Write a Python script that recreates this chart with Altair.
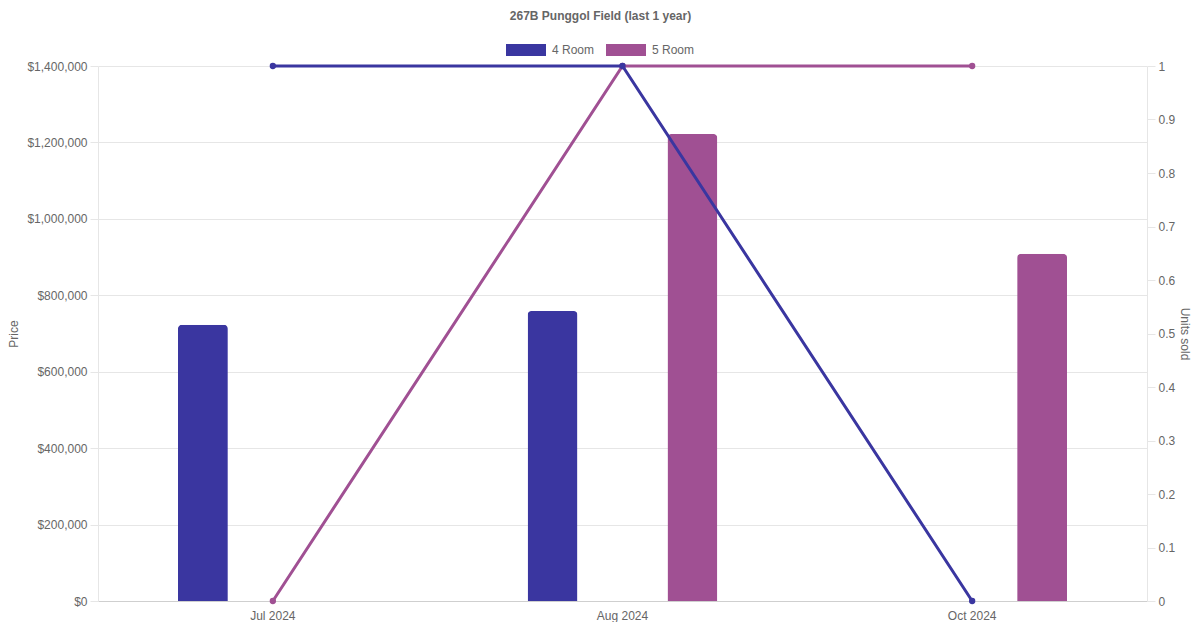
import altair as alt
import pandas as pd

months = ["Jul 2024", "Aug 2024", "Oct 2024"]
series = ["4 Room", "5 Room"]
price_4room = [723000, 759000, None]
price_5room = [None, 1222000, 909000]
units_4room = [1, 1, 0]
units_5room = [0, 1, 1]
colors = ["#3A36A0", "#A05093"]

price_ticks = [0, 200000, 400000, 600000, 800000, 1000000, 1200000, 1400000]
unit_ticks = [0, 0.1, 0.2, 0.3, 0.4, 0.5, 0.6, 0.7, 0.8, 0.9, 1]

rows = []
for i, m in enumerate(months):
    rows.append({"month": m, "series": "4 Room", "price": price_4room[i], "units": units_4room[i]})
    rows.append({"month": m, "series": "5 Room", "price": price_5room[i], "units": units_5room[i]})
df = pd.DataFrame(rows)

FONT = "Liberation Sans"
GRID = "#e6e6e6"
TXT = "#666666"

color = alt.Color(
    "series:N",
    scale=alt.Scale(domain=series, range=colors),
    legend=alt.Legend(
        title=None,
        orient="none",
        direction="horizontal",
        legendX=408,
        legendY=-36,
        padding=0,
        symbolType="M-1,-0.3H1V0.3H-1Z",
        symbolSize=1600,
        symbolStrokeWidth=0,
        labelOffset=6,
        columnPadding=11,
        labelFont=FONT,
        labelFontSize=12,
        labelColor=TXT,
    ),
)

x = alt.X(
    "month:N",
    sort=months,
    scale=alt.Scale(type="band", paddingInner=0, paddingOuter=0),
    axis=alt.Axis(
        title=None,
        ticks=False,
        grid=False,
        domainColor="#cfcfcf",
        labelPadding=9,
        labelAngle=0,
        labelFont=FONT,
        labelFontSize=12,
        labelColor=TXT,
    ),
)

bars = (
    alt.Chart(df)
    .transform_filter("datum.price != null")
    .mark_bar(cornerRadiusTopLeft=4, cornerRadiusTopRight=4)
    .encode(
        x=x,
        xOffset=alt.XOffset(
            "series:N",
            scale=alt.Scale(domain=series, paddingInner=0.643, paddingOuter=0.5715),
        ),
        y=alt.Y(
            "price:Q",
            scale=alt.Scale(domain=[0, 1400000], nice=False),
            axis=alt.Axis(
                title="Price",
                values=price_ticks,
                format="$,.0f",
                grid=True,
                gridColor=GRID,
                tickColor=GRID,
                tickSize=8,
                domainColor=GRID,
                labelPadding=3,
                labelFont=FONT,
                labelFontSize=12,
                labelColor=TXT,
                titleFont=FONT,
                titleFontSize=12,
                titleFontWeight="normal",
                titleColor=TXT,
                titlePadding=6,
            ),
        ),
        color=color,
    )
)

unit_axis = alt.Axis(
    title="Units sold",
    orient="right",
    values=unit_ticks,
    format="~g",
    grid=False,
    tickColor=GRID,
    tickSize=8,
    domainColor=GRID,
    labelPadding=3,
    labelFont=FONT,
    labelFontSize=12,
    labelColor=TXT,
    titleFont=FONT,
    titleFontSize=12,
    titleFontWeight="normal",
    titleColor=TXT,
    titleAngle=90,
    titlePadding=3,
)

def line_layer(name):
    return (
        alt.Chart(df)
        .transform_filter(alt.datum.series == name)
        .mark_line(strokeWidth=3, point=alt.OverlayMarkDef(size=40, filled=True))
        .encode(
            x=x,
            y=alt.Y("units:Q", scale=alt.Scale(domain=[0, 1], nice=False), axis=unit_axis),
            color=color,
        )
    )

lines = alt.layer(line_layer("5 Room"), line_layer("4 Room"))

chart = (
    alt.layer(bars, lines)
    .resolve_scale(y="independent")
    .properties(
        width=1049,
        height=535,
        padding={"left": 90, "top": 58, "right": 45, "bottom": 21},
        autosize=alt.AutoSizeParams(type="none"),
        title=alt.TitleParams(
            "267B Punggol Field (last 1 year)",
            anchor="middle",
            dx=-22,
            offset=7,
            font=FONT,
            fontSize=12,
            fontWeight="bold",
            color=TXT,
        ),
    )
    .configure_view(stroke=None)
)

chart.save("out.html", embed_options={"renderer": "svg", "actions": False})
